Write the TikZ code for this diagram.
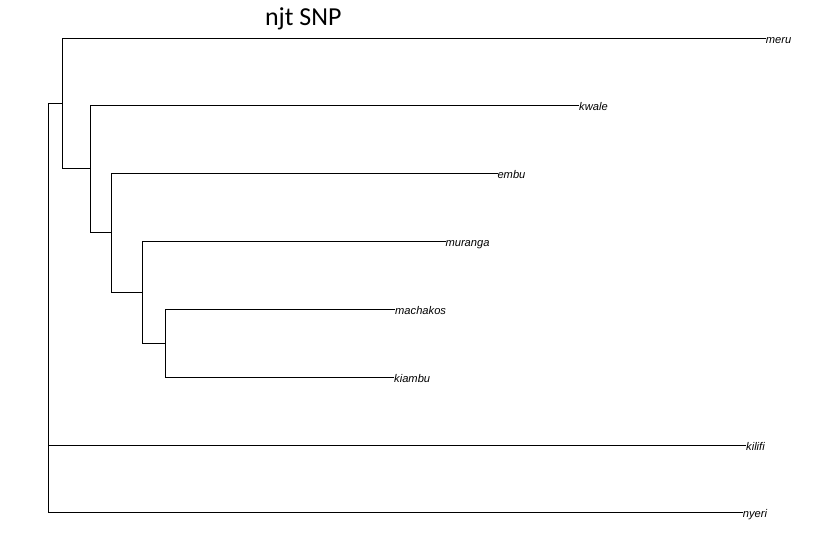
\documentclass[tikz,border=0pt]{standalone}
\usepackage{fontspec}
\setmainfont{Liberation Sans}
\newfontfamily\titlefont{Carlito}
\begin{document}
\begin{tikzpicture}[x=1bp,y=-1bp,
  branch/.style={line width=0.9bp, line cap=rect},
  leaf/.style={anchor=base west, inner sep=0pt, yshift=-5.5bp, font=\fontsize{11.2}{13}\selectfont\itshape}]
\useasboundingbox[fill=white] (0,0) rectangle (838,551);
% internal nodes
\coordinate (root) at (48.5,103.8);
\coordinate (A) at (62.5,103.8);
\coordinate (B) at (90.5,168.8);
\coordinate (C) at (111.3,232.7);
\coordinate (D) at (142.3,292.3);
\coordinate (E) at (165.3,343.3);
% leaf tips
\coordinate (tmeru) at (765.7,38.3);
\coordinate (tkwale) at (579,105.3);
\coordinate (tembu) at (497.3,173.3);
\coordinate (tmuranga) at (445.3,241.3);
\coordinate (tmachakos) at (395,309.3);
\coordinate (tkiambu) at (394,377.3);
\coordinate (tkilifi) at (746,445.3);
\coordinate (tnyeri) at (742.7,512.3);
% branches
\draw[branch] (A) -| (root);
\draw[branch] (tkilifi) -| (root);
\draw[branch] (tnyeri) -| (root);
\draw[branch] (tmeru) -| (A);
\draw[branch] (B) -| (A);
\draw[branch] (tkwale) -| (B);
\draw[branch] (C) -| (B);
\draw[branch] (tembu) -| (C);
\draw[branch] (D) -| (C);
\draw[branch] (tmuranga) -| (D);
\draw[branch] (E) -| (D);
\draw[branch] (tmachakos) -| (E);
\draw[branch] (tkiambu) -| (E);
% labels
\node[leaf] (meru) at (tmeru) {meru};
\node[leaf] (kwale) at (tkwale) {kwale};
\node[leaf] (embu) at (tembu) {embu};
\node[leaf] (muranga) at (tmuranga) {muranga};
\node[leaf] (machakos) at (tmachakos) {machakos};
\node[leaf] (kiambu) at (tkiambu) {kiambu};
\node[leaf] (kilifi) at (tkilifi) {kilifi};
\node[leaf] (nyeri) at (tnyeri) {nyeri};
% title
\node[anchor=base, inner sep=0pt, font=\titlefont\fontsize{26}{30}\selectfont] (title) at (303.3,26) {njt SNP};
\end{tikzpicture}
\end{document}
